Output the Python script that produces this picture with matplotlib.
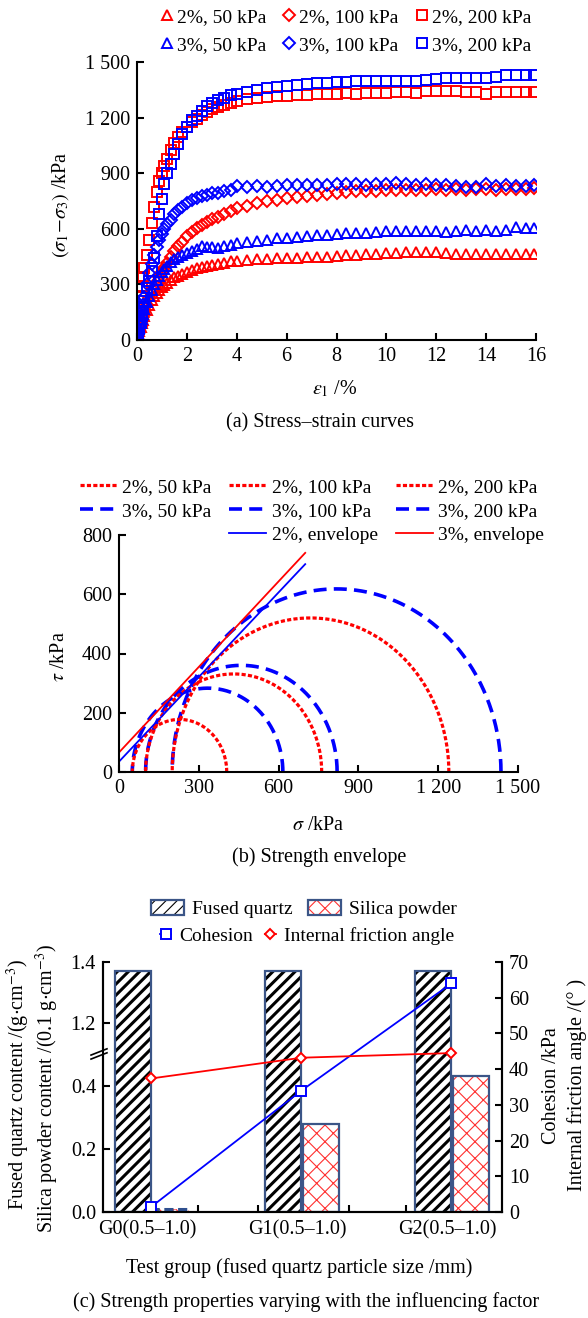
import numpy as np
import matplotlib
matplotlib.use("Agg")
from matplotlib import pyplot as plt
from matplotlib.lines import Line2D
from matplotlib.patches import Patch

plt.rcParams['font.family'] = ['Liberation Serif', 'DejaVu Serif']
plt.rcParams['mathtext.fontset'] = 'stix'
plt.rcParams['font.size'] = 14

# ---------------- data ----------------
# (a) stress-strain curves, axial strain in %
strain = [0, 0.05, 0.1, 0.15, 0.2, 0.25, 0.3, 0.4, 0.5, 0.6, 0.7, 0.8, 0.9, 1.0, 1.1, 1.2,
          1.35, 1.5, 1.65, 1.8, 2.0, 2.2, 2.4, 2.6, 2.8, 3.0, 3.25, 3.5, 3.75, 4.0,
          4.4, 4.8, 5.2, 5.6, 6.0, 6.4, 6.8, 7.2, 7.6, 8.0, 8.4, 8.8, 9.2, 9.6, 10.0,
          10.4, 10.8, 11.2, 11.6, 12.0, 12.4, 12.8, 13.2, 13.6, 14.0, 14.4, 14.8, 15.2, 15.6, 15.9]
q_2_50 = [10, 30, 50, 70, 90, 110, 130, 160, 190, 215, 235, 255, 270, 285, 298, 310,
          325, 338, 348, 358, 368, 378, 386, 394, 400, 406, 412, 418, 424, 428,
          432, 436, 438, 440, 442, 444, 446, 448, 450, 454, 458, 460, 462, 465, 468,
          470, 474, 476, 476, 476, 472, 466, 466, 465, 465, 465, 464, 465, 464, 466]
q_2_100 = [15, 35, 55, 75, 100, 125, 150, 190, 225, 255, 285, 315, 340, 365, 390, 415,
           450, 480, 505, 530, 560, 585, 605, 622, 638, 652, 665, 680, 695, 710,
           725, 738, 748, 758, 765, 772, 778, 784, 790, 795, 798, 802, 805, 806, 808,
           810, 810, 812, 810, 814, 812, 815, 812, 814, 815, 812, 815, 814, 816, 818]
q_2_200 = [60, 110, 170, 230, 290, 340, 390, 460, 540, 630, 720, 800, 860, 900, 940, 975,
           1025, 1065, 1095, 1120, 1150, 1175, 1195, 1215, 1230, 1245, 1258, 1268, 1278, 1288,
           1298, 1305, 1310, 1315, 1318, 1320, 1322, 1325, 1328, 1330, 1332, 1330, 1333, 1335, 1332,
           1336, 1338, 1335, 1345, 1342, 1343, 1341, 1338, 1336, 1330, 1338, 1340, 1336, 1337, 1340]
q_3_50 = [15, 40, 65, 90, 115, 140, 165, 205, 240, 270, 300, 325, 345, 365, 385, 400,
          420, 435, 448, 460, 472, 482, 492, 505, 502, 500, 498, 505, 515, 525,
          530, 536, 540, 548, 552, 556, 560, 565, 568, 572, 575, 578, 580, 584, 588,
          590, 588, 590, 588, 590, 582, 590, 592, 590, 594, 590, 596, 608, 606, 606]
q_3_100 = [20, 45, 80, 110, 150, 190, 230, 300, 360, 410, 460, 500, 540, 570, 600, 625,
           650, 680, 700, 720, 740, 755, 765, 775, 785, 792, 795, 805, 810, 830,
           828, 830, 828, 832, 835, 835, 838, 836, 838, 842, 840, 842, 838, 842, 840,
           845, 840, 838, 842, 836, 838, 832, 828, 825, 840, 832, 838, 832, 830, 838]
q_3_200 = [20, 40, 60, 90, 130, 170, 210, 280, 320, 370, 440, 560, 680, 760, 840, 900,
           950, 1005, 1060, 1110, 1150, 1185, 1210, 1235, 1260, 1280, 1295, 1308, 1320, 1328,
           1340, 1350, 1358, 1365, 1372, 1378, 1380, 1385, 1388, 1392, 1394, 1396, 1398, 1398, 1398,
           1400, 1400, 1400, 1402, 1410, 1412, 1413, 1415, 1415, 1416, 1420, 1428, 1430, 1432, 1432]
a_yticks = [0, 300, 600, 900, 1200, 1500]
a_yticklabels = ['0', '300', '600', '900', '1 200', '1 500']

# (b) Mohr circles: confining stress and major principal stress (kPa)
sig3_2 = [50, 100, 200]
sig1_2 = [405, 762, 1240]
sig3_3 = [50, 100, 200]
sig1_3 = [616, 820, 1436]
env_c = {'2%': 35, '3%': 66}          # intercept, kPa
env_phi = {'2%': 43.6, '3%': 43.9}    # slope angle, deg
env_xmax = 700
b_xticks = [0, 300, 600, 900, 1200, 1500]
b_xticklabels = ['0', '300', '600', '900', '1 200', '1 500']

# (c) strength properties vs group
groups = ['G0(0.5\u20131.0)', 'G1(0.5\u20131.0)', 'G2(0.5\u20131.0)']
fused_quartz = [1.37, 1.37, 1.37]
silica_powder = [0.01, 0.28, 0.43]
cohesion = [1.5, 34, 64]
friction = [37.4, 43.2, 44.5]
c_yticks = [0, 0.2, 0.4, 1.2, 1.4]
c_yticklabels = ['0.0', '0.2', '0.4', '1.2', '1.4']

W, H = 588, 1318
fig = plt.figure(figsize=(W / 100, H / 100), dpi=100)


def box(l, t, r, b):
    return [l / W, 1 - b / H, (r - l) / W, (b - t) / H]


def ftext(x, y, s, **kw):
    fig.text(x / W, 1 - y / H, s, ha='center', va='center', **kw)


def style(ax, right=False):
    for s in ['top'] + ([] if right else ['right']):
        ax.spines[s].set_visible(False)
    for s in ax.spines.values():
        s.set_linewidth(1.5)
    ax.tick_params(direction='in', length=5, width=1.5, labelsize=14.5, pad=5)


# ---------------- (a) ----------------
ax = fig.add_axes(box(137, 62, 536, 340))
style(ax)
mk = dict(ls='none', mfc='none', mew=1.4, ms=7)
mkd = dict(mk, ms=6)
h1 = ax.plot(strain, q_2_50, marker='^', color='#ff0000', label='2%, 50 kPa', **mk)[0]
h2 = ax.plot(strain, q_2_100, marker='D', color='#ff0000', label='2%, 100 kPa', **mkd)[0]
h3 = ax.plot(strain, q_2_200, marker='s', color='#ff0000', label='2%, 200 kPa', **mk)[0]
h4 = ax.plot(strain, q_3_50, marker='^', color='#0000ff', label='3%, 50 kPa', **mk)[0]
h5 = ax.plot(strain, q_3_100, marker='D', color='#0000ff', label='3%, 100 kPa', **mkd)[0]
h6 = ax.plot(strain, q_3_200, marker='s', color='#0000ff', label='3%, 200 kPa', **mk)[0]
ax.set_xlim(0, 16)
ax.set_ylim(0, 1500)
ax.set_xticks(range(0, 17, 2))
ax.set_yticks(a_yticks)
ax.set_yticklabels(a_yticklabels)
fig.legend(handles=[h1, h4, h2, h5, h3, h6], ncol=3, frameon=False, numpoints=1,
           loc='upper center', bbox_to_anchor=(346 / W, 1 - 8 / H), fontsize=14,
           handlelength=0.6, handletextpad=0.2, columnspacing=0.9, labelspacing=0.55,
           borderaxespad=0, borderpad=0)
ftext(61, 205, r'$(\sigma_1\!-\!\sigma_3)$ /kPa', rotation=90, fontsize=14.5)
ftext(335, 389, r'$\varepsilon_1$ /%', fontsize=14.5)
ftext(320, 423, '(a) Stress\u2013strain curves', fontsize=14.5)

# ---------------- (b) ----------------
ax = fig.add_axes(box(119, 535, 518, 772))
style(ax)
th = np.linspace(0, np.pi, 300)
dot = (0, (1.3, 0.7))
dash = (0, (3.6, 2.0))
hb = {}
for s3, s1, lab in zip(sig3_3, sig1_3, ['50', '100', '200']):
    cen, r = (s1 + s3) / 2, (s1 - s3) / 2
    hb['3' + lab] = ax.plot(cen + r * np.cos(th), r * np.sin(th), color='#0000ff', lw=2.6,
                            ls=dash, label='3%, ' + lab + ' kPa')[0]
for s3, s1, lab in zip(sig3_2, sig1_2, ['50', '100', '200']):
    cen, r = (s1 + s3) / 2, (s1 - s3) / 2
    hb['2' + lab] = ax.plot(cen + r * np.cos(th), r * np.sin(th), color='#ff0000', lw=2.3,
                            ls=dot, label='2%, ' + lab + ' kPa')[0]
xe = np.array([0, env_xmax])
he2 = ax.plot(xe, env_c['2%'] + xe * np.tan(np.radians(env_phi['2%'])), color='#0000ff',
              lw=1.3, label='2%, envelope')[0]
he3 = ax.plot(xe, env_c['3%'] + xe * np.tan(np.radians(env_phi['3%'])), color='#ff0000',
              lw=1.3, label='3%, envelope')[0]
ax.set_xlim(0, 1500)
ax.set_ylim(0, 800)
ax.set_xticks(b_xticks)
ax.set_xticklabels(b_xticklabels)
ax.set_yticks(range(0, 801, 200))
blank = Line2D([], [], color='none', label=' ')
fig.legend(handles=[hb['250'], hb['350'], blank, hb['2100'], hb['3100'], he2,
                    hb['2200'], hb['3200'], he3],
           ncol=3, frameon=False, loc='upper center', bbox_to_anchor=(312 / W, 1 - 478 / H),
           fontsize=14, handlelength=1.9, handletextpad=0.3, columnspacing=0.9,
           labelspacing=0.33, borderaxespad=0, borderpad=0)
ftext(60, 657, r'$\tau$ /kPa', rotation=90, fontsize=14.5)
ftext(318, 826, r'$\sigma$ /kPa', fontsize=14.5)
ftext(319, 857, '(b) Strength envelope', fontsize=14.5)

# ---------------- (c) ----------------
ax = fig.add_axes(box(103, 962, 502, 1212))
style(ax, right=True)


def fwd(y):
    y = np.asarray(y, float)
    return np.where(y <= 0.5, y * 315,
                    np.where(y <= 1.1, 157.5 + (y - 0.5) * 0.8, 158 + (y - 1.1) * 305))


def inv(v):
    v = np.asarray(v, float)
    return np.where(v <= 157.5, v / 315,
                    np.where(v <= 158, 0.5 + (v - 157.5) / 0.8, 1.1 + (v - 158) / 305))


ax.set_yscale('function', functions=(fwd, inv))
ax.set_ylim(0, 1.4)
ax.set_xlim(-0.293, 2.367)
xg = np.arange(len(groups))
edge = '#3b5587'
bw = 0.24


def hatched_bars(x, h, hatch, hc, lw):
    bars = ax.bar(x, h, bw, color='white', edgecolor=hc, linewidth=0, hatch=hatch, zorder=2)
    for p in bars:
        if hasattr(p, 'set_hatch_linewidth'):
            p.set_hatch_linewidth(lw)
    return ax.bar(x, h, bw, facecolor='none', edgecolor=edge, linewidth=1.6, zorder=3)


plt.rcParams['hatch.linewidth'] = 2.2
hatched_bars(xg - 0.09, fused_quartz, '///', 'black', 2.2)
plt.rcParams['hatch.linewidth'] = 0.8
sb = hatched_bars(xg + 0.16, silica_powder, 'xx', '#ff3030', 0.8)
sb[0].set_linestyle((0, (3, 1.5)))
sb[0].set_linewidth(2.2)
sb[0].set_edgecolor('#2f4f8f')

ax.set_yticks(c_yticks)
ax.set_yticklabels(c_yticklabels)
ax.yaxis.set_minor_locator(matplotlib.ticker.NullLocator())
ax.set_xticks(xg)
ax.set_xticklabels(groups)
ax.set_xticks([0.34, 0.74, 1.35, 1.73], minor=True)
ax.tick_params(axis='x', which='major', length=0, pad=6)
ax.tick_params(axis='x', which='minor', direction='in', length=5, width=1.5)

# axis break marks on the left spine
brk = (fwd(0.8) - fwd(0)) / (fwd(1.4) - fwd(0))
ax.fill([-0.03, 0.01, 0.01, -0.03], [brk - 0.02, brk + 0.005, brk + 0.02, brk - 0.005],
        color='white', transform=ax.transAxes, clip_on=False, zorder=5)
for d in (-0.008, 0.008):
    ax.plot([-0.03, 0.01], [brk + d - 0.0125, brk + d + 0.0125], color='black', lw=1.2,
            transform=ax.transAxes, clip_on=False, zorder=6)

ax2 = ax.twinx()
style(ax2, right=True)
ax2.set_ylim(0, 70)
ax2.set_yticks(range(0, 71, 10))
hc = ax2.plot(xg + 0.03, cohesion, color='#0000ff', lw=1.3, marker='s', ms=6.5, mfc='white',
              mec='#0000ff', mew=1.4, label='Cohesion')[0]
hf = ax2.plot(xg + 0.03, friction, color='#ff0000', lw=1.3, marker='D', ms=5.5, mfc='white',
              mec='#ff0000', mew=1.4, label='Internal friction angle')[0]

fq = (Patch(facecolor='white', edgecolor='black', hatch='///', lw=0),
      Patch(facecolor='none', edgecolor=edge, lw=1.6))
sp = (Patch(facecolor='white', edgecolor='#ff3030', hatch='xx', lw=0),
      Patch(facecolor='none', edgecolor=edge, lw=1.6))
fig.legend([fq, sp], ['Fused quartz', 'Silica powder'], ncol=2, frameon=False,
           loc='center', bbox_to_anchor=(304 / W, 1 - 909 / H), fontsize=14,
           handlelength=1.7, handleheight=0.8, handletextpad=0.4, columnspacing=0.8,
           borderpad=0)
fig.legend(handles=[hc, hf], ncol=2, frameon=False, numpoints=1,
           loc='center', bbox_to_anchor=(307 / W, 1 - 936 / H), fontsize=14,
           handlelength=0.6, handletextpad=0.4, columnspacing=0.6, borderpad=0)

ftext(18, 1084, r'Fused quartz content /(g$\cdot$cm$^{-3}$)', rotation=90, fontsize=14.5)
ftext(47, 1088, r'Silica powder content /(0.1 g$\cdot$cm$^{-3}$)', rotation=90, fontsize=14.5)
ftext(551, 1086, 'Cohesion /kPa', rotation=90, fontsize=14.5)
ftext(577, 1085, 'Internal friction angle /(\u00b0 )', rotation=90, fontsize=14.5)
ftext(299, 1268, 'Test group (fused quartz particle size /mm)', fontsize=14.5)
ftext(306, 1302, '(c) Strength properties varying with the influencing factor', fontsize=14.5)

fig.savefig('out.png', dpi=100)
